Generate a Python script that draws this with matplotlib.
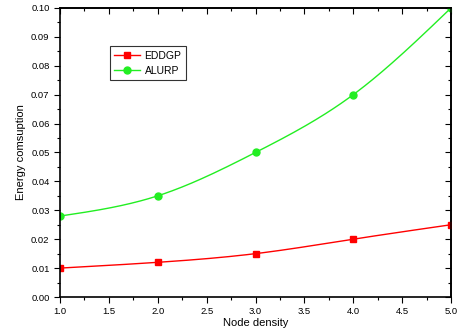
import numpy as np
import matplotlib
matplotlib.use("Agg")
import matplotlib.pyplot as plt
from matplotlib.ticker import MultipleLocator, NullFormatter

plt.rcParams["font.family"] = ["Liberation Sans", "DejaVu Sans"]

node_density = [1.0, 2.0, 3.0, 4.0, 5.0]
eddgp = [0.010, 0.012, 0.015, 0.020, 0.025]
alurp = [0.028, 0.035, 0.050, 0.070, 0.100]


# natural cubic spline through the points, for the smooth line
def spline(x, y, n=200):
    x = np.asarray(x, float)
    y = np.asarray(y, float)
    k = len(x)
    h = np.diff(x)
    A = np.zeros((k, k))
    b = np.zeros(k)
    A[0, 0] = A[-1, -1] = 1
    for i in range(1, k - 1):
        A[i, i - 1] = h[i - 1]
        A[i, i] = 2 * (h[i - 1] + h[i])
        A[i, i + 1] = h[i]
        b[i] = 6 * ((y[i + 1] - y[i]) / h[i] - (y[i] - y[i - 1]) / h[i - 1])
    m = np.linalg.solve(A, b)
    xs = np.linspace(x[0], x[-1], n)
    idx = np.clip(np.searchsorted(x, xs) - 1, 0, k - 2)
    t = xs - x[idx]
    hi = h[idx]
    a = (m[idx + 1] - m[idx]) / (6 * hi)
    bb = m[idx] / 2
    c = (y[idx + 1] - y[idx]) / hi - hi * (2 * m[idx] + m[idx + 1]) / 6
    ys = y[idx] + c * t + bb * t ** 2 + a * t ** 3
    return xs, ys


fig = plt.figure(figsize=(4.59, 3.35), dpi=100)
ax = fig.add_axes([0.1307, 0.1134, 0.852, 0.863])

red = "#ff0000"
green = "#22ee22"
for y, col, mk, name in [(eddgp, red, "s", "EDDGP"), (alurp, green, "o", "ALURP")]:
    xs, ys = spline(node_density, y)
    ax.plot(xs, ys, color=col, lw=1)
    ax.plot(node_density, y, linestyle="none", marker=mk, color=col, ms=5)
    ax.plot([], [], color=col, lw=1, marker=mk, ms=5, label=name)

ax.set_xlim(1.0, 5.0)
ax.set_ylim(0.0, 0.10)
ax.xaxis.set_major_locator(MultipleLocator(0.5))
ax.xaxis.set_minor_locator(MultipleLocator(0.25))
ax.yaxis.set_major_locator(MultipleLocator(0.01))
ax.yaxis.set_minor_locator(MultipleLocator(0.005))
ax.xaxis.set_major_formatter(plt.FormatStrFormatter("%.1f"))
ax.yaxis.set_major_formatter(plt.FormatStrFormatter("%.2f"))
ax.tick_params(which="both", labelsize=6.8, width=0.8, colors="black", direction="out")
ax.tick_params(which="major", length=4)
ax.tick_params(which="minor", length=2)
for s in ax.spines.values():
    s.set_linewidth(1.2)

# mirrored ticks on top and right, pointing inward
top = ax.secondary_xaxis("top")
right = ax.secondary_yaxis("right")
top.xaxis.set_major_locator(MultipleLocator(0.5))
top.xaxis.set_minor_locator(MultipleLocator(0.25))
right.yaxis.set_major_locator(MultipleLocator(0.01))
right.yaxis.set_minor_locator(MultipleLocator(0.005))
for sec in (top, right):
    sec.tick_params(which="both", direction="in", width=0.8, labelsize=0)
    sec.tick_params(which="major", length=4)
    sec.tick_params(which="minor", length=2)
    sec.xaxis.set_major_formatter(NullFormatter())
    sec.yaxis.set_major_formatter(NullFormatter())
    for s in sec.spines.values():
        s.set_linewidth(1.2)

ax.set_xlabel("Node density", fontsize=8, labelpad=1)
ax.set_ylabel("Energy comsuption", fontsize=8, labelpad=4)

leg = ax.legend(loc="upper left", bbox_to_anchor=(0.115, 0.885), fontsize=7.5,
                frameon=True, fancybox=False, handlelength=2.5, borderpad=0.4,
                labelspacing=0.5, handletextpad=0.4)
leg.get_frame().set_edgecolor("black")
leg.get_frame().set_linewidth(0.8)

fig.savefig("out.png", dpi=100)
